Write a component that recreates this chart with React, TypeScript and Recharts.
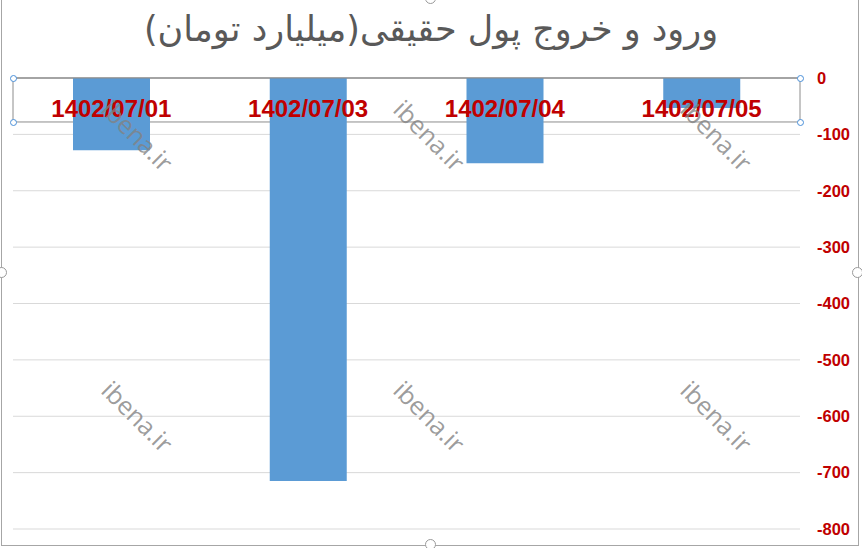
import { BarChart, Bar, XAxis, YAxis, CartesianGrid, ReferenceArea } from 'recharts';

const dates = ['1402/07/01', '1402/07/03', '1402/07/04', '1402/07/05'];
const netFlow = [-128, -715, -151, -53];
const yTicks = [0, -100, -200, -300, -400, -500, -600, -700, -800];

const chartData = dates.map((d, i) => ({ date: d, value: netFlow[i] }));

const RED = '#C00000';

const renderDateTick = (props: any) => {
  const { x, y, payload } = props;
  return (
    <text
      x={x}
      y={y + 47}
      textAnchor="middle"
      fill={RED}
      fontFamily="'Liberation Sans', Arial, sans-serif"
      fontWeight={700}
      fontSize={24}
    >
      {payload.value}
    </text>
  );
};

// watermark centres
const watermarks = [
  { cx: 138, cy: 135 },
  { cx: 430, cy: 135 },
  { cx: 717, cy: 135 },
  { cx: 138, cy: 416 },
  { cx: 430, cy: 416 },
  { cx: 717, cy: 416 },
];

const handle = (left: number, top: number, key: string) => (
  <div
    key={key}
    style={{
      position: 'absolute',
      left: left - 3,
      top: top - 3,
      width: 5,
      height: 5,
      borderRadius: '50%',
      border: '1px solid #4a90d9',
      background: '#fff',
    }}
  />
);

const frameHandle = (left: number, top: number, key: string) => (
  <div
    key={key}
    style={{
      position: 'absolute',
      left: left - 5,
      top: top - 5,
      width: 9,
      height: 9,
      borderRadius: '50%',
      border: '1px solid #9a9a9a',
      background: '#fff',
    }}
  />
);

export default function App() {
  return (
    <div
      style={{
        position: 'absolute',
        left: 0,
        top: 0,
        width: 862,
        height: 548,
        background: '#fff',
        overflow: 'hidden',
      }}
    >
      <div
        style={{
          position: 'absolute',
          left: 1,
          top: -2,
          width: 856,
          height: 546,
          border: '1px solid #a6a6a6',
        }}
      />
      <div
        style={{
          position: 'absolute',
          left: 0,
          top: 9,
          width: 862,
          textAlign: 'center',
          fontFamily: "'DejaVu Sans', sans-serif",
          fontSize: 35,
          color: '#595959',
          direction: 'rtl',
        }}
      >
        ورود و خروج پول حقیقی(میلیارد تومان)
      </div>
      <BarChart
        width={862}
        height={548}
        data={chartData}
        margin={{ top: 77, right: 7, left: 13, bottom: 19 }}
        style={{ position: 'absolute', left: 0, top: 0 }}
      >
        <CartesianGrid stroke="#d9d9d9" vertical={false} />
        <XAxis
          dataKey="date"
          orientation="top"
          height={1}
          axisLine={{ stroke: '#8c8c8c' }}
          tickLine={false}
          tick={renderDateTick}
          interval={0}
        />
        <YAxis
          orientation="right"
          domain={[-800, 0]}
          ticks={yTicks}
          width={55}
          axisLine={false}
          tickLine={false}
          tickSize={0}
          tickMargin={17}
          tick={{
            fill: RED,
            fontFamily: "'Liberation Sans', Arial, sans-serif",
            fontWeight: 700,
            fontSize: 16.5,
            textAnchor: 'start',
          }}
        />
        <Bar dataKey="value" fill="#5B9BD5" barSize={77} isAnimationActive={false} />
        <ReferenceArea
          y1={0}
          y2={-78}
          fill="none"
          stroke="#8c8c8c"
          strokeWidth={1}
          isFront
        />
      </BarChart>
      {watermarks.map((w, i) => (
        <div
          key={i}
          style={{
            position: 'absolute',
            left: w.cx,
            top: w.cy,
            fontFamily: "'Open Sans', sans-serif",
            fontSize: 25,
            color: 'rgba(130,130,130,0.8)',
            transform: 'translate(-50%, -50%) rotate(45deg)',
            whiteSpace: 'nowrap',
          }}
        >
          ibena.ir
        </div>
      ))}
      {handle(13, 78, 'a')}
      {handle(800, 78, 'b')}
      {handle(13, 122, 'c')}
      {handle(800, 122, 'd')}
      {frameHandle(1, 272, 'e')}
      {frameHandle(857, 272, 'f')}
      {frameHandle(430, 544, 'g')}
      {frameHandle(430, -2, 'h')}
    </div>
  );
}
